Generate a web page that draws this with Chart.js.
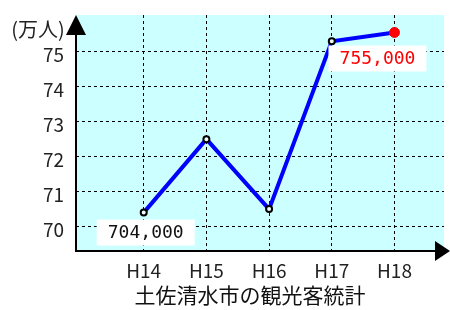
<!DOCTYPE html>
<html>
<head>
<meta charset="utf-8">
<script src="https://cdn.jsdelivr.net/npm/chart.js@4/dist/chart.umd.min.js"></script>
<style>
  body { margin: 0; background: #fff; }
  #wrap { width: 450px; height: 310px; }
</style>
</head>
<body>
<div id="wrap"><canvas id="kankoChart" width="450" height="310"></canvas></div>
<script>
// 土佐清水市の観光客数 (万人)
const years = ['H14', 'H15', 'H16', 'H17', 'H18'];
const visitors = [70.4, 72.5, 70.5, 75.3, 75.55];
const yTicks = [70, 71, 72, 73, 74, 75];
const labelIdx = [0, 4];   // 数値ラベルを付ける点
const labelText = ['704,000', '', '', '', '755,000'];
const chartTitle = '土佐清水市の観光客統計';

const FONT = '"Noto Sans CJK JP", "Noto Sans", sans-serif';
const BG = '#ccffff';

// 背景・軸・矢印・ラベル
const decoPlugin = {
    id: 'deco',
    beforeDraw(chart) {
        const { ctx, chartArea: a } = chart;
        ctx.save();
        ctx.fillStyle = BG;
        ctx.fillRect(a.left, a.top, a.right - a.left, a.bottom - a.top);
        ctx.restore();
    },
    afterDraw(chart) {
        const { ctx, chartArea: a } = chart;
        const xs = chart.scales.x, ys = chart.scales.y;
        ctx.save();
        // 軸
        ctx.strokeStyle = '#000';
        ctx.lineWidth = 2;
        ctx.beginPath();
        ctx.moveTo(a.left, a.top + 18);
        ctx.lineTo(a.left, a.bottom + 1);
        ctx.lineTo(a.right - 8, a.bottom + 1);
        ctx.stroke();
        // 矢印
        ctx.fillStyle = '#000';
        ctx.beginPath();
        ctx.moveTo(a.left, a.top);
        ctx.lineTo(a.left - 10, a.top + 20);
        ctx.lineTo(a.left + 10, a.top + 20);
        ctx.closePath();
        ctx.fill();
        ctx.beginPath();
        ctx.moveTo(450, a.bottom + 1);
        ctx.lineTo(435, a.bottom - 9);
        ctx.lineTo(435, a.bottom + 11);
        ctx.closePath();
        ctx.fill();
        // 単位・タイトル
        ctx.textAlign = 'center';
        ctx.textBaseline = 'middle';
        ctx.fillStyle = '#222';
        ctx.font = '20px ' + FONT;
        ctx.fillText('(万人)', 38, 29);
        ctx.fillStyle = '#111';
        ctx.font = '21px ' + FONT;
        ctx.fillText(chartTitle, 250, 295);
        // 数値ラベル
        ctx.font = '18px "DejaVu Sans Mono", monospace';
        labelIdx.forEach(i => {
            const px = xs.getPixelForValue(i);
            const py = ys.getPixelForValue(visitors[i]);
            const last = i === visitors.length - 1;
            const cx = last ? px - 17 : px + 2;
            const cy = last ? py + 26 : py + 20;
            ctx.fillStyle = '#fff';
            ctx.fillRect(cx - 49, cy - 13, 98, 26);
            ctx.fillStyle = last ? '#ff0000' : '#111';
            ctx.fillText(labelText[i], cx, cy + 1);
        });
        ctx.restore();
    }
};

const gridStyle = {
    color: '#000',
    lineWidth: 1,
    drawTicks: false
};

new Chart(document.getElementById('kankoChart'), {
    type: 'line',
    data: {
        datasets: [{
            data: visitors.map((v, i) => ({ x: i, y: v })),
            borderColor: '#0000ff',
            borderWidth: 4,
            tension: 0,
            pointRadius: visitors.map((v, i) => i === visitors.length - 1 ? 5 : 3),
            pointBorderWidth: visitors.map((v, i) => i === visitors.length - 1 ? 1 : 2),
            pointBorderColor: visitors.map((v, i) => i === visitors.length - 1 ? '#ff0000' : '#000'),
            pointBackgroundColor: visitors.map((v, i) => i === visitors.length - 1 ? '#ff0000' : '#eaffff')
        }]
    },
    options: {
        responsive: false,
        animation: false,
        layout: { padding: { left: 0, top: 15, right: 4, bottom: 0 } },
        plugins: {
            legend: { display: false },
            tooltip: { enabled: false }
        },
        scales: {
            x: {
                type: 'linear',
                min: -1.08,
                max: 4.79,
                afterBuildTicks: axis => { axis.ticks = years.map((y, i) => ({ value: i })); },
                afterFit: axis => {
                    axis.height = 60;
                    axis.paddingLeft = 0;
                    axis.paddingRight = 0;
                },
                border: { display: false, dash: [3, 3] },
                grid: gridStyle,
                ticks: {
                    padding: 9,
                    color: '#222',
                    font: { family: FONT, size: 19 },
                    callback: v => years[v]
                }
            },
            y: {
                min: 69.33,
                max: 76.05,
                afterBuildTicks: axis => { axis.ticks = yTicks.map(v => ({ value: v })); },
                afterFit: axis => {
                    axis.width = 76;
                    axis.paddingTop = 0;
                    axis.paddingBottom = 0;
                },
                border: { display: false, dash: [3, 3] },
                grid: gridStyle,
                ticks: {
                    padding: 12,
                    labelOffset: 3,
                    color: '#222',
                    font: { family: FONT, size: 19 }
                }
            }
        }
    },
    plugins: [decoPlugin]
});
</script>
</body>
</html>
